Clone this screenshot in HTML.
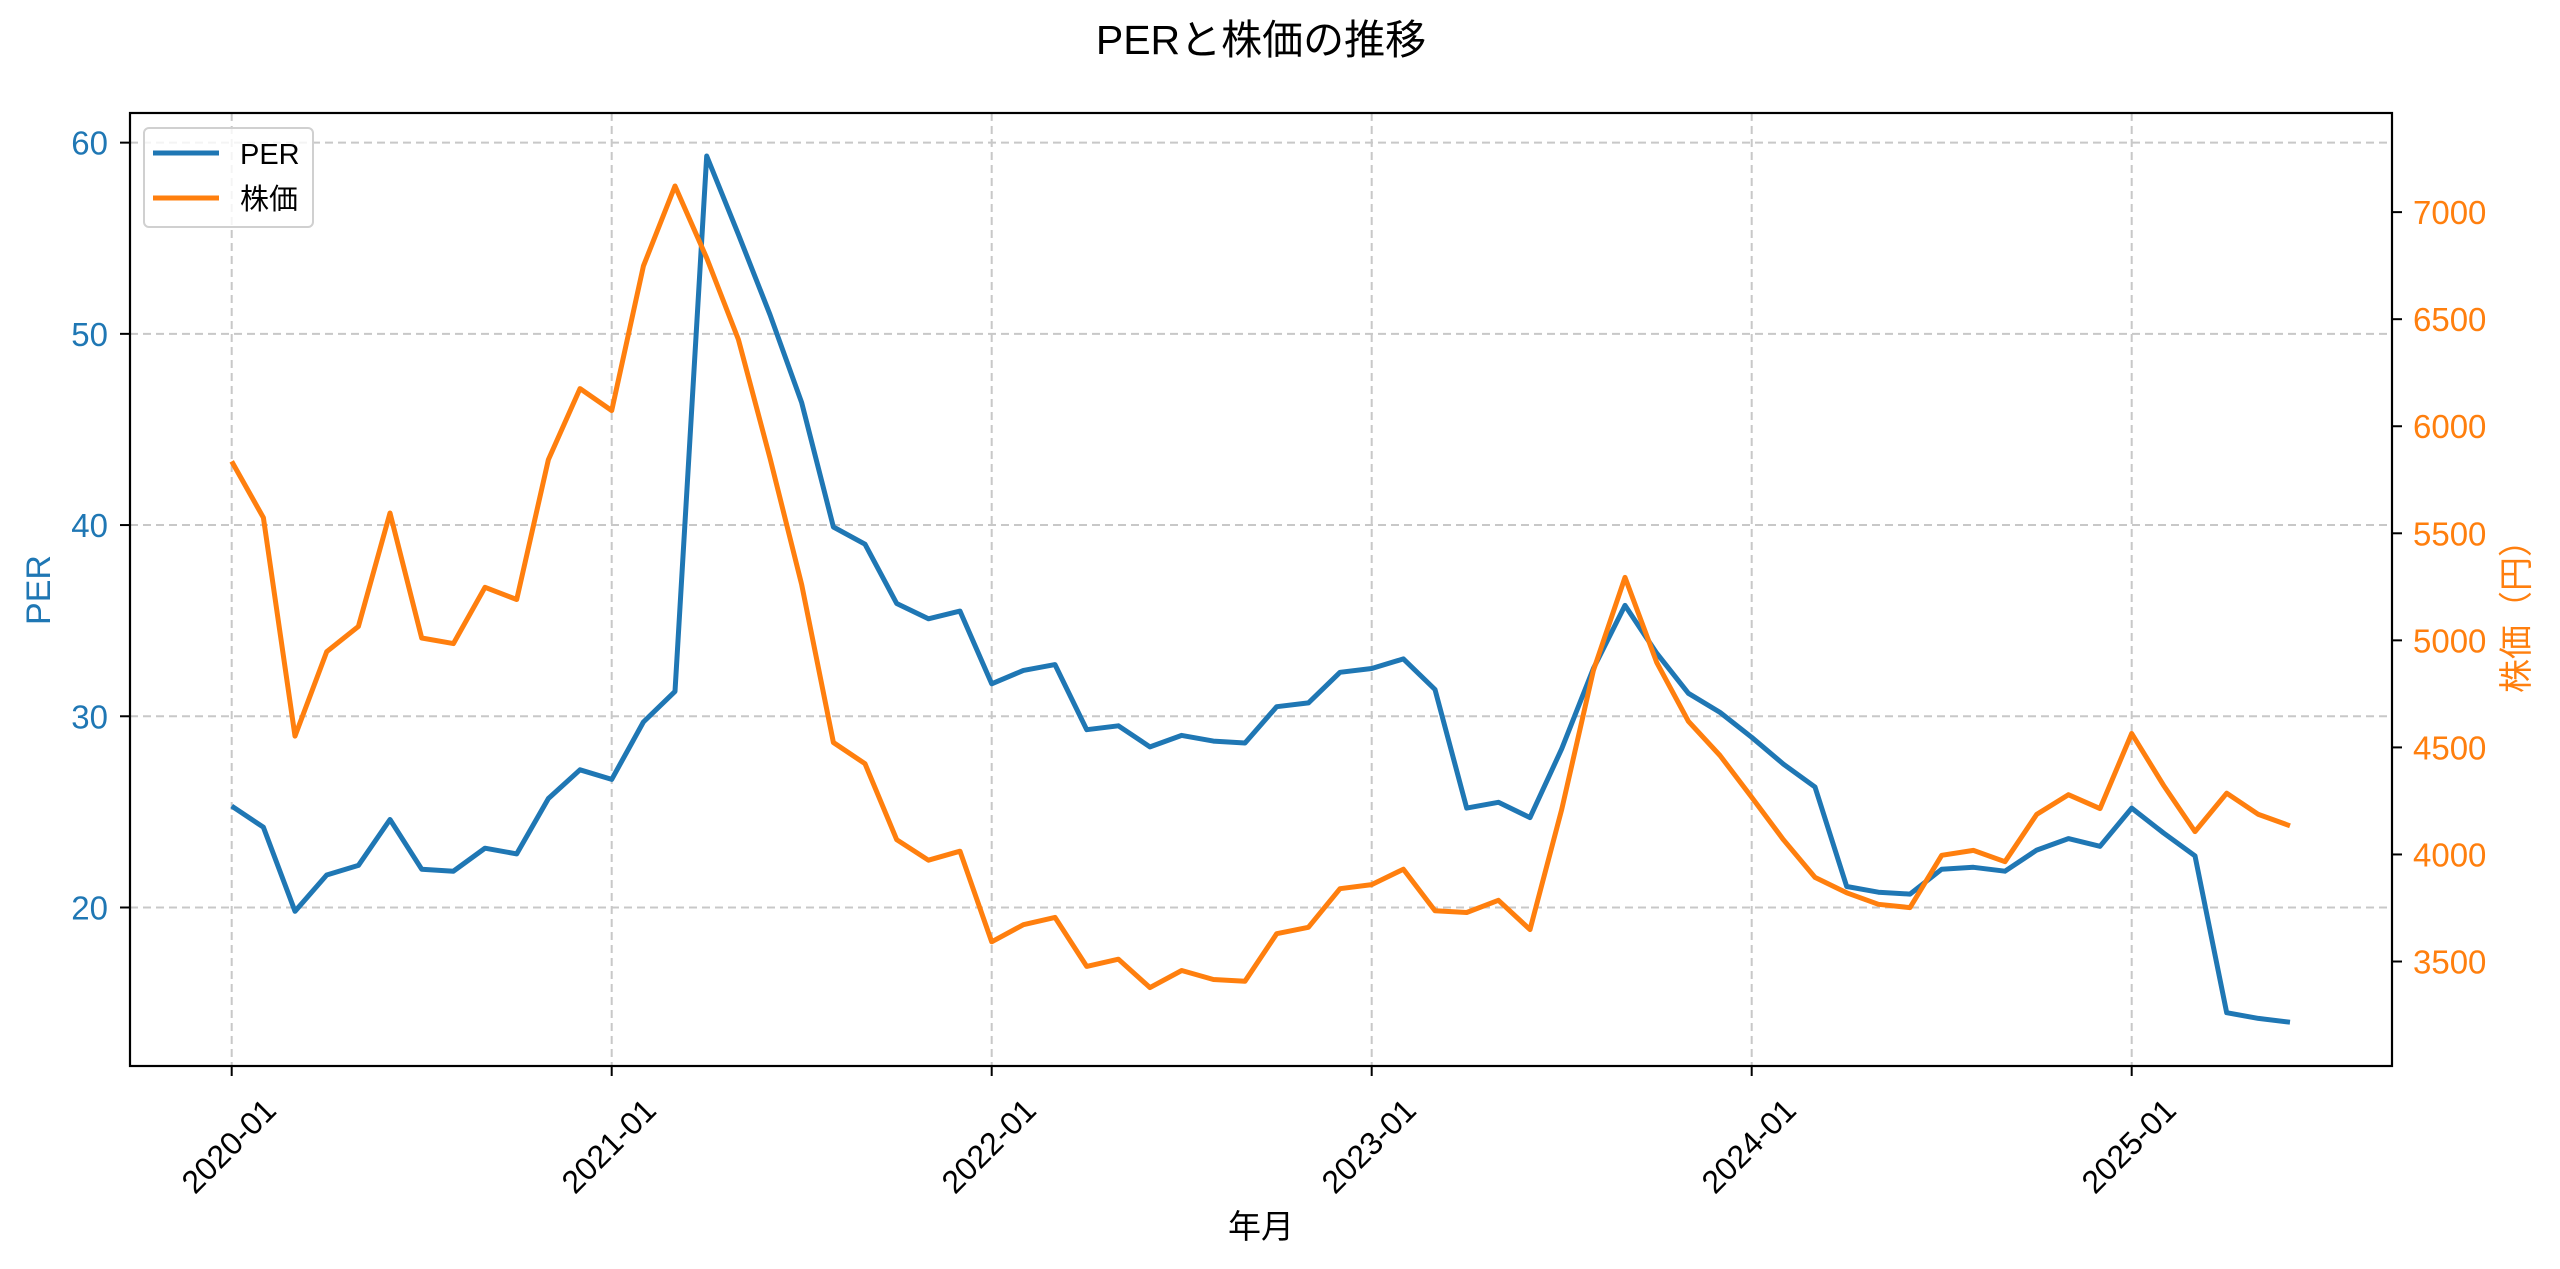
<!DOCTYPE html>
<html><head><meta charset="utf-8"><style>
html,body{margin:0;padding:0;background:#fff;}
svg{display:block;font-family:"Liberation Sans","Noto Sans CJK JP",sans-serif;}
</style></head><body>
<svg id="chart" width="2560" height="1269" viewBox="0 0 2560 1269" xmlns="http://www.w3.org/2000/svg">
<rect x="0" y="0" width="2560" height="1269" fill="#fff"/>
<text x="1261" y="54" text-anchor="middle" font-size="41" fill="#000">PERと株価の推移</text>
<g id="grid"></g>
<g id="series"></g>
<rect x="130" y="113" width="2262" height="953" fill="none" stroke="#000" stroke-width="2.2"/>
<g id="axes"></g>
<text x="1261" y="1238" text-anchor="middle" font-size="33" fill="#000">年月</text>
<text transform="translate(50,590) rotate(-90)" text-anchor="middle" font-size="34" fill="#1f77b4">PER</text>
<text transform="translate(2528,608) rotate(-90)" text-anchor="middle" font-size="34" fill="#ff7f0e">株価（円）</text>
<g>
<rect x="144" y="128" width="169" height="99" rx="5" fill="#fff" fill-opacity="0.8" stroke="#d0d0d0" stroke-width="2"/>
<line x1="153" y1="153" x2="219" y2="153" stroke="#1f77b4" stroke-width="5"/>
<text x="240" y="164" font-size="29" fill="#000">PER</text>
<line x1="153" y1="198" x2="219" y2="198" stroke="#ff7f0e" stroke-width="5"/>
<text x="240" y="209" font-size="29" fill="#000">株価</text>
</g>
</svg>
<script>
const months = (function(){const a=[];for(let y=2020;y<=2025;y++){for(let m=1;m<=12;m++){if(y===2025&&m>6)break;a.push(y+'-'+String(m).padStart(2,'0'));}}return a;})();
const perValues = [25.3,24.2,19.8,21.7,22.2,24.6,22.0,21.9,23.1,22.8,25.7,27.2,
26.7,29.7,31.3,59.3,55.2,51.0,46.4,39.9,39.0,35.9,35.1,35.5,
31.7,32.4,32.7,29.3,29.5,28.4,29.0,28.7,28.6,30.5,30.7,32.3,
32.5,33.0,31.4,25.2,25.5,24.7,28.3,32.5,35.8,33.3,31.2,30.2,
28.9,27.5,26.3,21.1,20.8,20.7,22.0,22.1,21.9,23.0,23.6,23.2,
25.2,23.9,22.7,14.5,14.2,14.0];
const priceValues = [5836,5573,4553,4947,5065,5595,5011,4985,5248,5191,5844,6176,
6073,6748,7122,6786,6405,5851,5260,4523,4424,4069,3973,4015,
3592,3672,3706,3477,3511,3378,3458,3416,3408,3630,3660,3840,
3859,3931,3737,3729,3786,3649,4210,4859,5294,4897,4622,4462,
4267,4069,3893,3821,3767,3752,3996,4019,3966,4187,4279,4214,
4565,4324,4107,4286,4187,4134];
const xTickLabels = ['2020-01','2021-01','2022-01','2023-01','2024-01','2025-01'];
const leftTicks = [20,30,40,50,60];
const rightTicks = [3500,4000,4500,5000,5500,6000,6500,7000];

const NS='http://www.w3.org/2000/svg';
const L=130,R=2392,T=113,B=1066;
const x0=231.7,x1=2131.7;
function xScale(i){return x0+(x1-x0)*i/60;}
const yL0=11.71,yL1=61.55;
function yLeft(v){return B-(v-yL0)/(yL1-yL0)*(B-T);}
const yR0=3012,yR1=7463;
function yRight(v){return B-(v-yR0)/(yR1-yR0)*(B-T);}
function mk(tag,attrs,parent){const e=document.createElementNS(NS,tag);for(const k in attrs)e.setAttribute(k,attrs[k]);parent.appendChild(e);return e;}

const grid=document.getElementById('grid'),axes=document.getElementById('axes'),series=document.getElementById('series');
xTickLabels.forEach(function(lab){
  const i=months.indexOf(lab);const x=xScale(i);
  const g=mk('line',{x1:x,y1:T,x2:x,y2:B,stroke:'#c8c8c8','stroke-width':2,'stroke-dasharray':'8,5'},grid);
  
  
  const t=mk('line',{x1:x,y1:B,x2:x,y2:B+10,stroke:'#000','stroke-width':2},axes);
  
  
  const tx=mk('text',{transform:'translate('+(x-3)+','+(B+80)+') rotate(-45)','text-anchor':'middle','dominant-baseline':'central','font-size':32,fill:'#000'},axes);
  tx.textContent=lab;
  
  
});
leftTicks.forEach(function(v){
  const y=yLeft(v);
  const g=mk('line',{x1:L,y1:y,x2:R,y2:y,stroke:'#c8c8c8','stroke-width':2,'stroke-dasharray':'8,5'},grid);
  
  
  const t=mk('line',{x1:L-10,y1:y,x2:L,y2:y,stroke:'#000','stroke-width':2},axes);
  
  
  const tx=mk('text',{x:L-22,y:y+12,'text-anchor':'end','font-size':33,fill:'#1f77b4'},axes);
  tx.textContent=v;
  
  
});
rightTicks.forEach(function(v){
  const y=yRight(v);
  const t=mk('line',{x1:R,y1:y,x2:R+10,y2:y,stroke:'#000','stroke-width':2},axes);
  
  
  const tx=mk('text',{x:R+21,y:y+12,'text-anchor':'start','font-size':33,fill:'#ff7f0e'},axes);
  tx.textContent=v;
  
  
});
const perPts=perValues.map(function(v,i){return xScale(i).toFixed(1)+','+yLeft(v).toFixed(1);}).join(' ');
const pl=mk('polyline',{points:perPts,fill:'none',stroke:'#1f77b4','stroke-width':5,'stroke-linejoin':'round'},series);


const prPts=priceValues.map(function(v,i){return xScale(i).toFixed(1)+','+yRight(v).toFixed(1);}).join(' ');
const pr=mk('polyline',{points:prPts,fill:'none',stroke:'#ff7f0e','stroke-width':5,'stroke-linejoin':'round'},series);


</script>
</body></html>
